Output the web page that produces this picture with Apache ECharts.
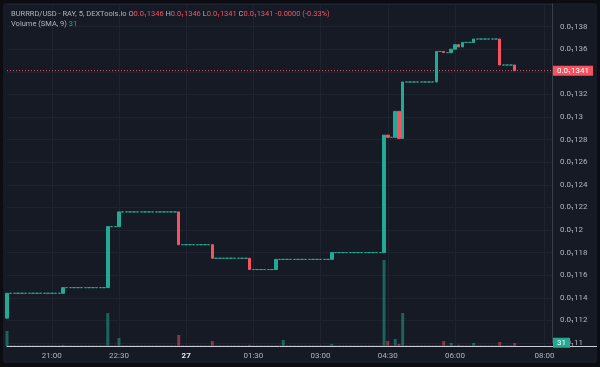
<!DOCTYPE html>
<html><head><meta charset="utf-8">
<script src="https://cdn.jsdelivr.net/npm/echarts/dist/echarts.min.js"></script>
<style>
html,body{margin:0;padding:0;background:#0b0d12;}
#bg{position:absolute;left:3px;top:3px;width:594px;height:360px;background:#161a25;border-radius:3px;}
#c{position:absolute;left:0;top:0;width:600px;height:367px;}
</style></head><body><div id="bg"></div><div id="c"></div>
<script>
// 5-minute candles starting 20:00
const startHour = 20, stepMin = 5, slotCount = 147;
const shownTicks = ['21:00','22:30','00:00','01:30','03:00','04:30','06:00','08:00'];
const dayLabel = {'00:00':'27'};

const opens = [
  0.01122,0.01144,0.01144,0.01144,0.01144,0.01144,0.01144,0.01144,0.01144,0.01144,
  0.01144,0.01144,0.01144,0.01144,0.01144,0.01144,0.01149,0.01149,0.01149,0.01149,
  0.01149,0.01149,0.01149,0.01149,0.01149,0.01149,0.01149,0.01149,0.01203,0.01203,
  0.01203,0.01216,0.01216,0.01216,0.01216,0.01216,0.01216,0.01216,0.01216,0.01216,
  0.01216,0.01216,0.01216,0.01216,0.01216,0.01216,0.01216,0.01187,0.01187,0.01187,
  0.01187,0.01187,0.01187,0.01187,0.01187,0.01187,0.01175,0.01175,0.01175,0.01175,
  0.01175,0.01175,0.01175,0.01175,0.01175,0.01175,0.01165,0.01165,0.01165,0.01165,
  0.01165,0.01165,0.01165,0.01174,0.01174,0.01174,0.01174,0.01174,0.01174,0.01174,
  0.01174,0.01174,0.01174,0.01174,0.01174,0.01174,0.01174,0.01174,0.01180,0.01180,
  0.01180,0.01180,0.01180,0.01180,0.01180,0.01180,0.01180,0.01180,0.01180,0.01180,
  0.01180,0.01180,0.01284,0.01282,0.01282,0.01305,0.01281,0.01331,0.01331,0.01331,
  0.01331,0.01331,0.01331,0.01331,0.01331,0.01331,0.01358,0.01358,0.01357,0.01357,
  0.01360,0.01364,0.01362,0.01366,0.01366,0.01366,0.01369,0.01369,0.01369,0.01369,
  0.01369,0.01369,0.01369,0.01346,0.01346,0.01346,0.01346
];
const closes = [
  0.01144,0.01144,0.01144,0.01144,0.01144,0.01144,0.01144,0.01144,0.01144,0.01144,
  0.01144,0.01144,0.01144,0.01144,0.01144,0.01149,0.01149,0.01149,0.01149,0.01149,
  0.01149,0.01149,0.01149,0.01149,0.01149,0.01149,0.01149,0.01203,0.01203,0.01203,
  0.01216,0.01216,0.01216,0.01216,0.01216,0.01216,0.01216,0.01216,0.01216,0.01216,
  0.01216,0.01216,0.01216,0.01216,0.01216,0.01216,0.01187,0.01187,0.01187,0.01187,
  0.01187,0.01187,0.01187,0.01187,0.01187,0.01175,0.01175,0.01175,0.01175,0.01175,
  0.01175,0.01175,0.01175,0.01175,0.01175,0.01165,0.01165,0.01165,0.01165,0.01165,
  0.01165,0.01165,0.01174,0.01174,0.01174,0.01174,0.01174,0.01174,0.01174,0.01174,
  0.01174,0.01174,0.01174,0.01174,0.01174,0.01174,0.01174,0.01180,0.01180,0.01180,
  0.01180,0.01180,0.01180,0.01180,0.01180,0.01180,0.01180,0.01180,0.01180,0.01180,
  0.01180,0.01284,0.01282,0.01282,0.01305,0.01281,0.01331,0.01331,0.01331,0.01331,
  0.01331,0.01331,0.01331,0.01331,0.01331,0.01358,0.01358,0.01357,0.01357,0.01360,
  0.01364,0.01362,0.01366,0.01366,0.01366,0.01369,0.01369,0.01369,0.01369,0.01369,
  0.01369,0.01369,0.01346,0.01346,0.01346,0.01346,0.01341
];
const volumes = [
  375,15,15,15,15,15,15,15,15,15,
  15,15,15,15,15,30,15,15,15,15,
  15,15,15,15,15,15,15,825,15,15,
  200,15,15,15,15,15,15,15,15,15,
  15,15,15,15,15,15,275,15,15,15,
  15,15,15,15,15,125,15,15,15,15,
  15,15,15,15,15,30,15,15,15,15,
  15,15,15,15,150,15,15,15,15,15,
  15,15,15,15,15,15,15,50,15,15,
  15,15,15,15,15,15,15,15,15,15,
  15,2150,125,15,175,50,825,15,15,15,
  15,15,15,15,15,15,15,125,15,75,
  15,30,15,15,15,75,15,15,15,15,
  15,15,100,15,15,15,75
];
const volumeSMA = [31];
const headerName = 'BURRRD/USD - RAY, 5, DEXTools.io';
const headerChange = '-0.0000 (-0.33%)';

const UP = '#22ab94', DOWN = '#f7525f', TXT = '#b2b5be', GRID = '#1f2330';

const cats = [];
for (let i = 0; i < slotCount; i++) {
  const m = startHour * 60 + i * stepMin;
  const h = Math.floor(m / 60) % 24, mm = m % 60;
  cats.push(String(h).padStart(2,'0') + ':' + String(mm).padStart(2,'0'));
}
function fmt(v){ let s = String(Math.round(v*1e5)).replace(/0+$/,''); return '0.0\u2081' + s; }

const candleData = opens.map((o,i)=>{
  const c = closes[i];
  return [o, c, Math.min(o,c), Math.max(o,c)];
});
const volData = volumes.map((v,i)=>({value:v, itemStyle:{color: closes[i] < opens[i] ? 'rgba(247,82,95,0.5)' : 'rgba(34,171,148,0.5)'}}));
const last = closes.length - 1;
const lastO = opens[last], lastC = closes[last];
const lastH = Math.max(lastO,lastC), lastL = Math.min(lastO,lastC);
const tickFn = (idx, val) => shownTicks.indexOf(val) >= 0;
const firstCat = cats[0], lastCat = cats[cats.length-1];

const chart = echarts.init(document.getElementById('c'), null, {renderer:'canvas'});
chart.setOption({
  animation:false,
  backgroundColor:'transparent',
  textStyle:{fontFamily:'Roboto, "DejaVu Sans", sans-serif'},
  title:[
    {left:11, top:10, padding:0,
     text:'{g|'+headerName+' O}{r|'+fmt(lastO)+'}{g| H}{r|'+fmt(lastH)+'}{g| L}{r|'+fmt(lastL)+'}{g| C}{r|'+fmt(lastC)+'}{r| '+headerChange+'}',
     textStyle:{fontSize:7.5, fontWeight:'normal', rich:{g:{color:TXT,fontSize:7.5},r:{color:DOWN,fontSize:7.5}}}},
    {left:11, top:20, padding:0,
     text:'{g|Volume (SMA, 9) }{v|'+volumeSMA[0]+'}',
     textStyle:{fontSize:7.5, fontWeight:'normal', rich:{g:{color:TXT,fontSize:7.5},v:{color:UP,fontSize:7.5}}}}
  ],
  grid:[
    {left:7, right:48, top:4, bottom:24, outerBoundsMode:'none'},
    {left:7, right:48, top:4, bottom:21, outerBoundsMode:'none'}
  ],
  xAxis:[
    {type:'category', gridIndex:0, data:cats, boundaryGap:false, show:false},
    {type:'category', gridIndex:1, data:cats, boundaryGap:false,
     axisLine:{lineStyle:{color:'#c9ccd4', width:1}},
     axisTick:{show:false},
     axisLabel:{interval:tickFn, color:TXT, fontSize:8, margin:6, hideOverlap:false,
       formatter:(v)=> dayLabel[v] ? '{b|'+dayLabel[v]+'}' : v,
       rich:{b:{color:'#e6e8ee', fontWeight:'bold', fontSize:8}}},
     splitLine:{show:true, interval:tickFn, lineStyle:{color:GRID, width:1}}}
  ],
  yAxis:[
    {type:'value', gridIndex:0, position:'right', min:0.011, max:0.014, interval:0.0002, scale:true,
     axisLine:{show:true, lineStyle:{color:'#3b3f4b'}},
     axisTick:{show:false},
     axisLabel:{formatter:fmt, color:TXT, fontSize:8, margin:8, showMaxLabel:false},
     splitLine:{show:true, lineStyle:{color:GRID, width:1}}},
    {type:'value', gridIndex:1, min:0, max:8550, show:false, splitLine:{show:false}}
  ],
  series:[
    {type:'line', name:'lastPrice', xAxisIndex:0, yAxisIndex:0, z:1, clip:false, silent:true, color:DOWN,
     data:[[firstCat,lastC],[lastCat,lastC]], symbol:'none',
     itemStyle:{color:DOWN},
     lineStyle:{type:[1,2], color:DOWN, width:1, opacity:1},
     endLabel:{show:true, distance:1, formatter:()=>fmt(lastC), color:'#ffffff', fontSize:8,
               backgroundColor:DOWN, padding:[1,4,1,4]}},
    {type:'candlestick', name:'price', xAxisIndex:0, yAxisIndex:0, data:candleData, barWidth:3, clip:false, z:3,
     itemStyle:{color:UP, color0:DOWN, borderColor:UP, borderColor0:DOWN, borderColorDoji:UP, borderWidth:1}},
    {type:'bar', name:'volume', xAxisIndex:1, yAxisIndex:1, data:volData, barWidth:3},
    {type:'line', name:'volSMA', xAxisIndex:1, yAxisIndex:1, z:5, clip:false, silent:true,
     data:[[firstCat,volumeSMA[0]],[lastCat,volumeSMA[0]]], symbol:'none',
     lineStyle:{opacity:0},
     endLabel:{show:true, distance:1, formatter:()=>String(volumeSMA[0]), color:'#ffffff', fontSize:8,
               backgroundColor:UP, padding:[1,4,1,4], offset:[0,-2]}}
  ],
  graphic:[{type:'line', shape:{x1:552, y1:346.5, x2:597, y2:346.5}, style:{stroke:'#c9ccd4', lineWidth:1}, silent:true}]
});
</script></body></html>
